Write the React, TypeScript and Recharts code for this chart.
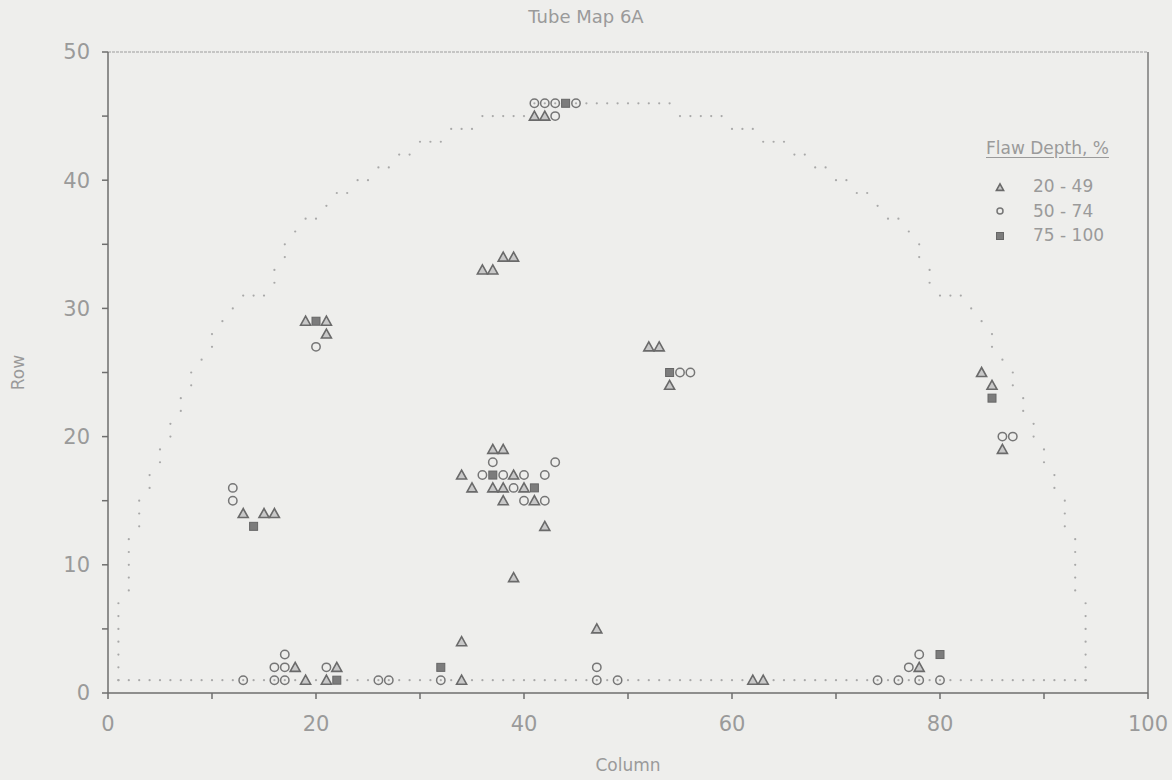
import { ScatterChart, Scatter, XAxis, YAxis, ReferenceLine } from 'recharts';

const FONT = '"DejaVu Sans", "Liberation Sans", sans-serif';
const TEXT = '#9a9a9a';
const AXIS = '#6e6e6e';

// flaw locations as [column, row]
const flaws2049: [number, number][] = [
  [41, 45], [42, 45],
  [19, 29], [21, 29], [21, 28],
  [13, 14], [15, 14], [16, 14],
  [37, 19], [38, 19],
  [34, 17], [39, 17],
  [35, 16], [37, 16], [38, 16], [40, 16],
  [38, 15], [41, 15],
  [42, 13], [39, 9],
  [38, 34], [39, 34], [36, 33], [37, 33],
  [52, 27], [53, 27], [54, 24],
  [84, 25], [85, 24], [86, 19],
  [18, 2], [19, 1], [22, 2], [21, 1],
  [34, 1], [34, 4], [47, 5],
  [62, 1], [63, 1], [78, 2],
];

const flaws5074: [number, number][] = [
  [41, 46], [42, 46], [43, 46], [45, 46], [43, 45],
  [20, 27],
  [12, 16], [12, 15],
  [37, 18], [43, 18],
  [36, 17], [38, 17], [40, 17], [42, 17],
  [39, 16],
  [40, 15], [42, 15],
  [55, 25], [56, 25],
  [86, 20], [87, 20],
  [13, 1], [16, 1], [17, 1], [16, 2], [17, 2], [17, 3], [21, 2], [26, 1], [27, 1],
  [32, 1], [47, 1], [47, 2], [49, 1],
  [74, 1], [76, 1], [78, 1], [80, 1], [77, 2], [78, 3],
];

const flaws75100: [number, number][] = [
  [44, 46], [20, 29], [14, 13], [37, 17], [41, 16], [54, 25], [85, 23], [22, 1], [32, 2], [80, 3],
];

// leftmost tube column of rows 1..46 (bundle is symmetric, columns 1..94)
const rowLeftCol = [
  1, 1, 1, 1, 1, 1, 1, 2, 2, 2,
  2, 2, 3, 3, 3, 4, 4, 5, 5, 6,
  6, 7, 7, 8, 8, 9, 10, 10, 11, 12,
  13, 16, 16, 17, 17, 18, 19, 21, 22, 24,
  26, 28, 30, 33, 36, 41,
];
const lastCol = 94;

const xTicks = [0, 10, 20, 30, 40, 50, 60, 70, 80, 90, 100];
const yTicks = [0, 5, 10, 15, 20, 25, 30, 35, 40, 45, 50];

const legendItems = [
  { label: '20 - 49', kind: 'tri' },
  { label: '50 - 74', kind: 'circ' },
  { label: '75 - 100', kind: 'sq' },
];

const toPoints = (list: [number, number][]) => list.map(([x, y]) => ({ x, y }));

// dots around the edge of the tube bundle
function outlinePoints() {
  const pts: { x: number; y: number }[] = [];
  for (let c = 1; c <= lastCol; c++) pts.push({ x: c, y: 1 });
  rowLeftCol.forEach((left, i) => {
    const row = i + 1;
    const right = lastCol + 1 - left;
    if (i + 1 >= rowLeftCol.length) {
      for (let c = left; c <= right; c++) pts.push({ x: c, y: row });
      return;
    }
    const end = Math.max(left, rowLeftCol[i + 1] - 1);
    for (let c = left; c <= end; c++) {
      pts.push({ x: c, y: row });
      pts.push({ x: lastCol + 1 - c, y: row });
    }
  });
  return pts;
}

const Tri = ({ cx, cy, s = 5 }: any) => (
  <polygon
    points={`${cx},${cy - s} ${cx - s},${cy + s * 0.8} ${cx + s},${cy + s * 0.8}`}
    fill="#c8c8c8"
    stroke="#6a6a6a"
    strokeWidth={1.6}
  />
);
const Circ = ({ cx, cy, s = 4.2 }: any) => (
  <circle cx={cx} cy={cy} r={s} fill="none" stroke="#767676" strokeWidth={1.5} />
);
const Sq = ({ cx, cy, s = 4 }: any) => (
  <rect x={cx - s} y={cy - s} width={s * 2} height={s * 2} fill="#7c7c7c" stroke="#666" strokeWidth={1} />
);
const Dot = ({ cx, cy }: any) => <circle cx={cx} cy={cy} r={1.1} fill="#a8a8a8" />;

function LegendMarker({ kind }: { kind: string }) {
  return (
    <svg width={14} height={14} style={{ display: 'block' }}>
      {kind === 'tri' && <Tri cx={7} cy={7.5} s={3.6} />}
      {kind === 'circ' && <Circ cx={7} cy={7} s={3} />}
      {kind === 'sq' && <Sq cx={7} cy={7} s={3.5} />}
    </svg>
  );
}

export default function App() {
  const outline = outlinePoints();
  return (
    <div
      style={{
        position: 'absolute',
        left: 0,
        top: 0,
        width: 1172,
        height: 780,
        background: '#eeeeec',
        fontFamily: FONT,
        color: TEXT,
      }}
    >
      <div style={{ position: 'absolute', top: 8, left: 0, width: 1172, textAlign: 'center', fontSize: 18, lineHeight: '18px' }}>
        Tube Map 6A
      </div>
      <div style={{ position: 'absolute', top: 757, left: 108, width: 1040, textAlign: 'center', fontSize: 17, lineHeight: '17px' }}>
        Column
      </div>
      <div
        style={{
          position: 'absolute',
          top: 364,
          left: -32,
          width: 100,
          textAlign: 'center',
          fontSize: 17,
          lineHeight: '17px',
          transform: 'rotate(-90deg)',
        }}
      >
        Row
      </div>

      <ScatterChart width={1172} height={780} margin={{ top: 52, right: 24, bottom: 57, left: 48 }}>
        <XAxis
          type="number"
          dataKey="x"
          domain={[0, 100]}
          ticks={xTicks}
          interval={0}
          tickFormatter={(v: number) => (v % 20 === 0 ? String(v) : '')}
          tick={{ fill: TEXT, fontSize: 21, fontFamily: FONT }}
          tickSize={6}
          tickMargin={17}
          stroke={AXIS}
          strokeWidth={1.5}
          height={30}
        />
        <YAxis
          type="number"
          dataKey="y"
          domain={[0, 50]}
          ticks={yTicks}
          interval={0}
          tickFormatter={(v: number) => (v % 10 === 0 ? String(v) : '')}
          tick={{ fill: TEXT, fontSize: 21, fontFamily: FONT }}
          tickSize={6}
          tickMargin={12}
          stroke={AXIS}
          strokeWidth={1.5}
          width={60}
        />
        <ReferenceLine y={50} stroke="#9c9c9c" strokeWidth={1.2} strokeDasharray="3 1" />
        <ReferenceLine x={100} stroke="#7a7a7a" strokeWidth={1.5} />
        <Scatter data={outline} shape={Dot} isAnimationActive={false} />
        <Scatter data={toPoints(flaws5074)} shape={Circ} isAnimationActive={false} />
        <Scatter data={toPoints(flaws2049)} shape={Tri} isAnimationActive={false} />
        <Scatter data={toPoints(flaws75100)} shape={Sq} isAnimationActive={false} />
      </ScatterChart>

      <div style={{ position: 'absolute', left: 986, top: 140, fontSize: 17, lineHeight: '17px' }}>
        <div style={{ textDecoration: 'underline', textUnderlineOffset: 3 }}>Flaw Depth, %</div>
        {legendItems.map((it, i) => (
          <div
            key={it.label}
            style={{ position: 'absolute', left: 7, top: 38 + i * 24.5, display: 'flex', alignItems: 'center', whiteSpace: 'nowrap' }}
          >
            <LegendMarker kind={it.kind} />
            <span style={{ marginLeft: 26 }}>{it.label}</span>
          </div>
        ))}
      </div>
    </div>
  );
}
